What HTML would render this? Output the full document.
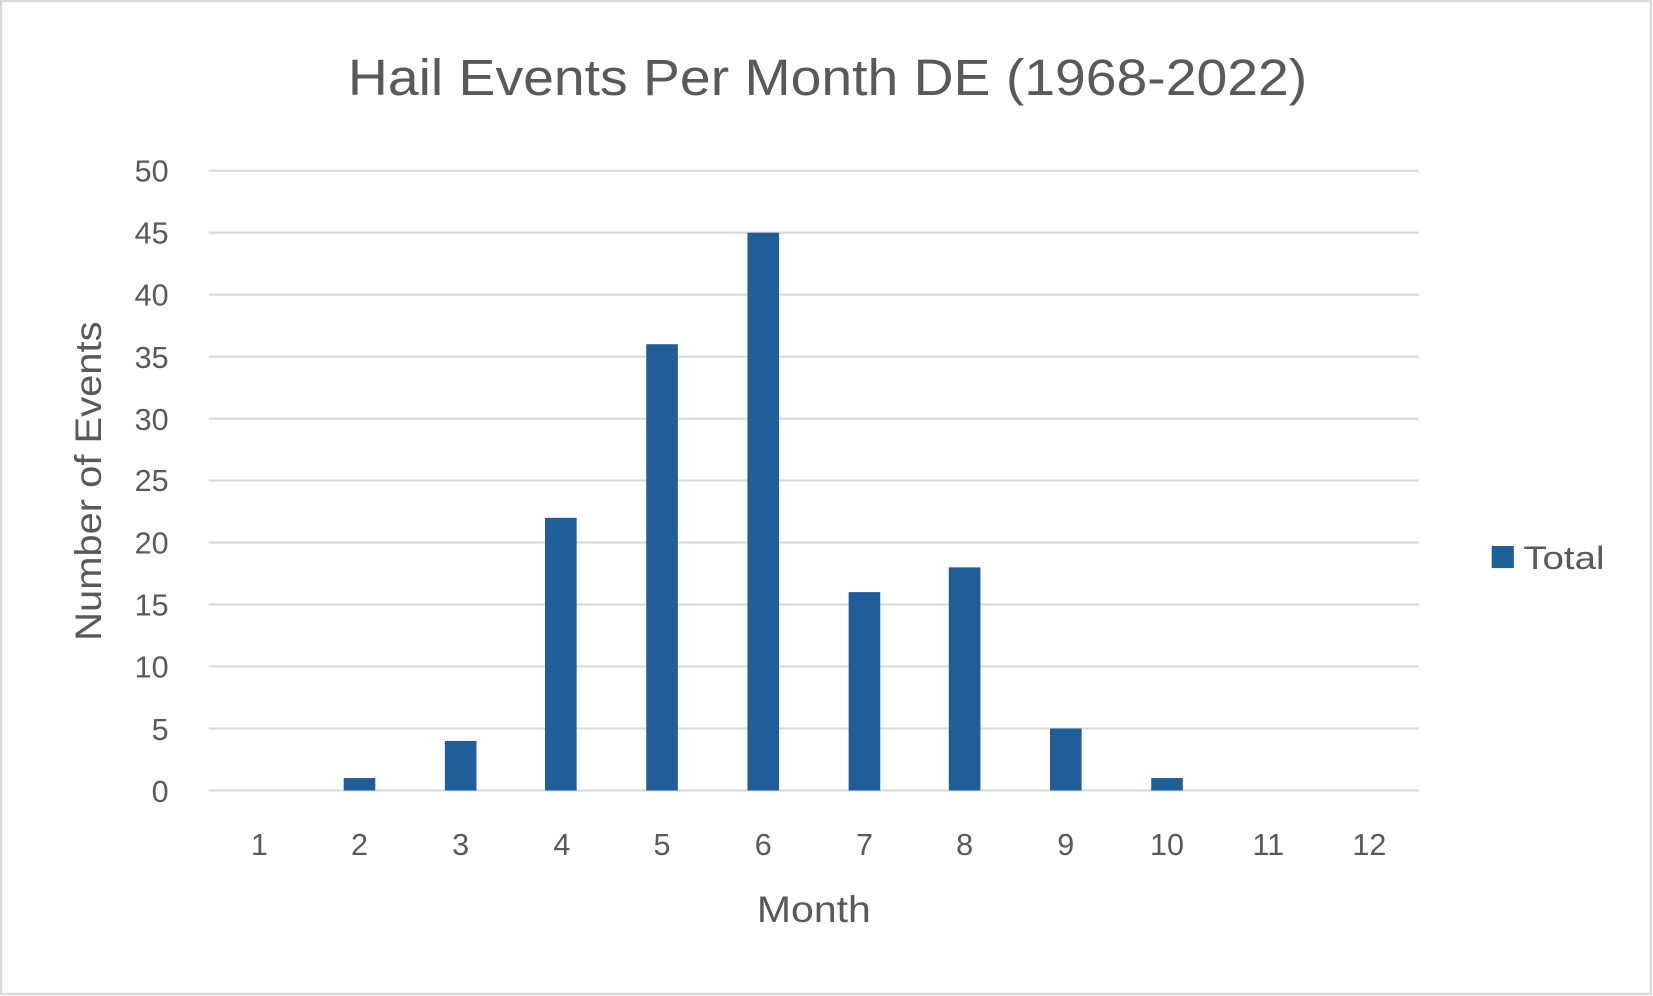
<!DOCTYPE html>
<html><head><meta charset="utf-8"><style>html,body{margin:0;padding:0;background:#fff}svg{display:block}</style></head>
<body>
<svg width="1653" height="996" viewBox="0 0 1568 945" preserveAspectRatio="none" xmlns="http://www.w3.org/2000/svg" font-family="Liberation Sans, sans-serif" fill="#595959">
<rect x="0" y="0" width="1568" height="945" fill="#fff"/>
<rect x="1" y="1" width="1565" height="942" fill="none" stroke="#d9d9d9" stroke-width="2"/>
<text x="330" y="90" font-size="48" textLength="910" lengthAdjust="spacingAndGlyphs">Hail Events Per Month DE (1968-2022)</text>
<g stroke="#d9d9d9" stroke-width="2">
<line x1="198" x2="1346" y1="162" y2="162"/><line x1="198" x2="1346" y1="220.8" y2="220.8"/>
<line x1="198" x2="1346" y1="279.6" y2="279.6"/><line x1="198" x2="1346" y1="338.4" y2="338.4"/>
<line x1="198" x2="1346" y1="397.2" y2="397.2"/><line x1="198" x2="1346" y1="456" y2="456"/>
<line x1="198" x2="1346" y1="514.8" y2="514.8"/><line x1="198" x2="1346" y1="573.6" y2="573.6"/>
<line x1="198" x2="1346" y1="632.4" y2="632.4"/><line x1="198" x2="1346" y1="691.2" y2="691.2"/>
<line x1="198" x2="1346" y1="750" y2="750"/>
</g>
<g font-size="29" text-anchor="end">
<text x="160" y="172">50</text><text x="160" y="231">45</text><text x="160" y="290">40</text>
<text x="160" y="349">35</text><text x="160" y="408">30</text><text x="160" y="466">25</text>
<text x="160" y="525">20</text><text x="160" y="584">15</text><text x="160" y="643">10</text>
<text x="160" y="702">5</text><text x="160" y="761">0</text>
</g>
<g fill="#1f5e99">
<rect x="326" y="738.2" width="30" height="11.8"/>
<rect x="422" y="703" width="30" height="47"/>
<rect x="517" y="491.3" width="30" height="258.7"/>
<rect x="613" y="326.6" width="30" height="423.4"/>
<rect x="709" y="220.8" width="30" height="529.2"/>
<rect x="805" y="561.8" width="30" height="188.2"/>
<rect x="900" y="538.3" width="30" height="211.7"/>
<rect x="996" y="691.2" width="30" height="58.8"/>
<rect x="1092" y="738.2" width="30" height="11.8"/>
</g>
<g font-size="29" text-anchor="middle">
<text x="246" y="811">1</text><text x="341" y="811">2</text><text x="437" y="811">3</text>
<text x="533" y="811">4</text><text x="628" y="811">5</text><text x="724" y="811">6</text>
<text x="820" y="811">7</text><text x="915" y="811">8</text><text x="1011" y="811">9</text>
<text x="1107" y="811">10</text><text x="1203" y="811">11</text><text x="1299" y="811">12</text>
</g>
<text x="718" y="875" font-size="35" textLength="108" lengthAdjust="spacingAndGlyphs">Month</text>
<text transform="translate(96,608) rotate(-90)" font-size="35" textLength="303" lengthAdjust="spacingAndGlyphs">Number of Events</text>
<rect x="1415" y="518" width="21" height="21" fill="#1f5e99"/>
<text x="1445" y="540" font-size="31" textLength="77" lengthAdjust="spacingAndGlyphs">Total</text>
</svg>
</body></html>
